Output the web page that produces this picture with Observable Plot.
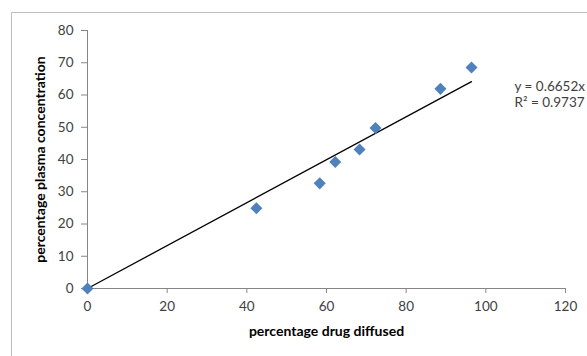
<!DOCTYPE html>
<html>
<head>
<meta charset="utf-8">
<script src="https://cdn.jsdelivr.net/npm/d3@7"></script>
<script src="https://cdn.jsdelivr.net/npm/@observablehq/plot@0.6"></script>
<style>
  html, body { margin: 0; padding: 0; background: #fff; overflow: hidden; width: 587px; height: 356px; }
  #frame { position: absolute; left: 11px; top: 12px; width: 700px; height: 500px; border: 1px solid #bfbfbf; box-sizing: border-box; }
  #chart { position: absolute; left: 0; top: 0; }
  #chart svg { overflow: visible; }
  [aria-label="x-axis label"] text, [aria-label="y-axis label"] text { font-weight: bold; fill: #000; font-size: 14px; }
</style>
</head>
<body>
<div id="frame"></div>
<div id="chart"></div>
<script>
const drugDiffused = [0, 42.4, 58.3, 62.2, 68.3, 72.3, 88.6, 96.4];
const plasmaConc   = [0, 24.9, 32.6, 39.2, 43.1, 49.8, 61.9, 68.5];
const slope = 0.6652;
const intercept = 0;
const equationLines = ["y = 0.6652x", "R² = 0.9737"];
const xTicks = [0, 20, 40, 60, 80, 100, 120];
const yTicks = [0, 10, 20, 30, 40, 50, 60, 70, 80];

const points = drugDiffused.map((x, i) => ({x, y: plasmaConc[i]}));
const xmin = d3.min(drugDiffused), xmax = d3.max(drugDiffused);
const fit = [xmin, xmax].map(x => ({x, y: slope * x + intercept}));

const font = "Lato, 'Open Sans', sans-serif";
const axisColor = "#868686";

const chart = Plot.plot({
  width: 587,
  height: 356,
  marginLeft: 87,
  marginRight: 22,
  marginTop: 30,
  marginBottom: 68,
  style: { fontFamily: font, fontSize: "13.5px", color: "#404040", background: "transparent" },
  x: { domain: [0, 120] },
  y: { domain: [0, 80] },
  marks: [
    Plot.ruleY([0], { stroke: axisColor, strokeWidth: 1 }),
    Plot.ruleX([0], { stroke: axisColor, strokeWidth: 1 }),
    Plot.axisX({ ticks: xTicks, tickSize: 5, tickPadding: 8, stroke: axisColor, fill: "#404040",
      label: "percentage drug diffused", labelAnchor: "center", labelArrow: "none", labelOffset: 47 }),
    Plot.axisY({ ticks: yTicks, tickSize: 6, tickPadding: 8, stroke: axisColor, fill: "#404040",
      label: "percentage plasma concentration", labelAnchor: "center", labelArrow: "none", labelOffset: 52 }),
    Plot.line(fit, { x: "x", y: "y", stroke: "#000", strokeWidth: 1.3 }),
    Plot.dot(points, { x: "x", y: "y", symbol: "square", r: 4.8, rotate: 45, fill: "#4F81BD", stroke: "none" }),
    Plot.text([equationLines.join("\n")], { text: d => d, frameAnchor: "top-right", textAnchor: "start",
      lineAnchor: "top", lineHeight: 1.2, dx: -51, dy: 49, fill: "#404040", fontSize: 13.5 })
  ]
});
document.getElementById("chart").appendChild(chart);
</script>
</body>
</html>
